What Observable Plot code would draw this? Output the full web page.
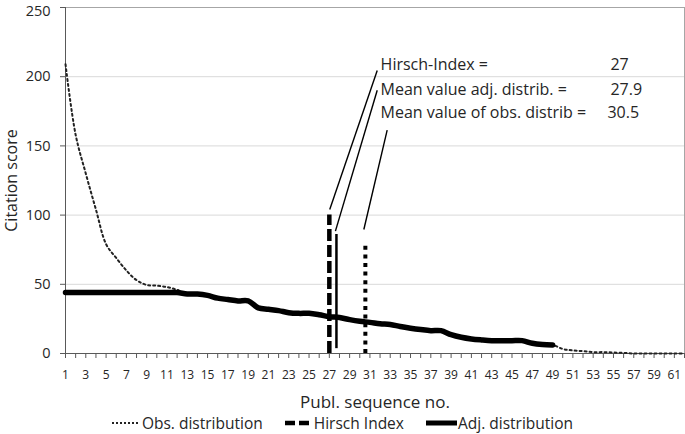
<!DOCTYPE html>
<html>
<head>
<meta charset="utf-8">
<script src="https://cdn.jsdelivr.net/npm/d3@7"></script>
<script src="https://cdn.jsdelivr.net/npm/@observablehq/plot@0.6"></script>
<style>
  body { margin: 0; background: #fff; font-family: "Open Sans", sans-serif; }
  #chart svg { display: block; }
  #legend { display: flex; justify-content: center; align-items: center; height: 22px; width: 685px;
            font-size: 15.5px; color: #262626; white-space: nowrap; }
  .item { display: flex; align-items: center; margin: 0 11px; }
  .item svg { display: block; }
</style>
</head>
<body>
<div id="chart"></div>
<div id="legend"></div>
<script>
// ---- data ----
const seqNo = [1,2,3,4,5,6,7,8,9,10,11,12,13,14,15,16,17,18,19,20,21,22,23,24,25,26,27,28,29,30,31,
  32,33,34,35,36,37,38,39,40,41,42,43,44,45,46,47,48,49,50,51,52,53,54,55,56,57,58,59,60,61,62];
const obsValues = [209,158,130,104,79,69,60,53,49.5,49,48,46,43,43,42,40,39,38,38,33,32,31,29.5,29,29,28,26.6,26,24.5,23.3,22.5,
  21.5,21,19.5,18.3,17.3,16.5,16.5,13.6,11.7,10.5,9.8,9.3,9.3,9.3,9.3,7.4,6.5,6.2,3.3,2.2,1.7,1,1,0.7,0.4,0,0,0,0,0,0];
const adjSeqNo = [1,2,3,4,5,6,7,8,9,10,11,12,13,14,15,16,17,18,19,20,21,22,23,24,25,26,27,28,29,30,31,
  32,33,34,35,36,37,38,39,40,41,42,43,44,45,46,47,48,49];
const adjValues = [44,44,44,44,44,44,44,44,44,44,44,44,43,43,42,40,39,38,38,33,32,31,29.5,29,29,28,26.6,26,24.5,23.3,22.5,
  21.5,21,19.5,18.3,17.3,16.5,16.5,13.6,11.7,10.5,9.8,9.3,9.3,9.3,9.3,7.4,6.5,6.2];

const yTicks = [0,50,100,150,200,250];
const yTopTick = 250;
const xTicks = seqNo;
const xTickLabels = [1,3,5,7,9,11,13,15,17,19,21,23,25,27,29,31,33,35,37,39,41,43,45,47,49,51,53,55,57,59,61];

// reference (vertical) lines: Hirsch index, mean adj., mean obs.
const refNames = ["Hirsch Index", "Mean adj. distrib.", "Mean obs. distrib."];
const refX = [27, 27.7, 30.55];
const refBottom = [0, 3.5, 0];
const refTop = [100, 86, 80];

// annotation texts and their leader lines (data units)
const annoLabels = ["Hirsch-Index =", "Mean value adj. distrib. =", "Mean value of obs. distrib ="];
const annoValues = ["27", "27.9", "30.5"];
const annoY = [204.5, 187.1, 170.3];
const annoLabelX = [32.05, 32.05, 32.05];
const annoValueX = [54.7, 54.7, 54.4];
const leaderX1 = [31.72, 31.72, 32.7];
const leaderY1 = [204.5, 190.2, 161.4];
const leaderX2 = [27.04, 27.6, 30.4];
const leaderY2 = [104, 88.4, 89.6];

const legendNames = ["Obs. distribution", "Hirsch Index", "Adj. distribution"];
const xTitle = "Publ. sequence no.";
const yTitle = "Citation score";

// ---- tables built from the arrays ----
const obs = seqNo.map((x, i) => ({x, y: obsValues[i]}));
const adj = adjSeqNo.map((x, i) => ({x, y: adjValues[i]}));
const refs = refNames.map((name, i) => ({name, x: refX[i], y1: refBottom[i], y2: refTop[i]}));
const annos = annoLabels.map((label, i) => ({label, value: annoValues[i], y: annoY[i], lx: annoLabelX[i], vx: annoValueX[i]}));
const leaders = leaderX1.map((x1, i) => ({x1, y1: leaderY1[i], x2: leaderX2[i], y2: leaderY2[i]}));

const textColor = "#262626";
const chart = Plot.plot({
  width: 685,
  height: 412,
  marginLeft: 65,
  marginRight: 1,
  marginTop: 7,
  marginBottom: 59,
  style: {fontFamily: '"Open Sans", sans-serif', color: textColor, background: "#fff", overflow: "visible"},
  x: {type: "linear", domain: [1, 62]},
  y: {domain: [0, 250]},
  marks: [
    Plot.ruleY(yTicks.filter(d => d > 0 && d < 250), {stroke: "#d9d9d9", strokeWidth: 1}),
    Plot.ruleY([250], {stroke: "#a6a6a6"}),
    Plot.ruleX([62], {stroke: "#a6a6a6"}),
    Plot.axisY({ticks: yTicks, tickFormat: d => d === yTopTick ? "" : String(d), tickSize: 5, tickPadding: 10,
                fontSize: 14.5, label: null, stroke: "#595959", fill: textColor}),
    Plot.axisY({ticks: [yTopTick], tickSize: 0, tickPadding: 15, dy: 4, fontSize: 14.5, label: null, fill: textColor}),
    Plot.axisX({ticks: xTicks, tickFormat: d => xTickLabels.includes(d) ? String(d) : "", tickSize: 5, tickPadding: 12,
                fontSize: 12, label: null, stroke: "#595959", fill: textColor}),
    Plot.ruleX([1], {stroke: "#595959"}),
    Plot.ruleY([0], {stroke: "#595959"}),
    Plot.line(obs, {x: "x", y: "y", stroke: "#222", strokeWidth: 2, strokeDasharray: "2 3", curve: "catmull-rom"}),
    Plot.line(adj, {x: "x", y: "y", stroke: "#000", strokeWidth: 5.5, curve: "catmull-rom"}),
    Plot.ruleX(refs.filter((d, i) => i === 0), {x: "x", y1: "y1", y2: "y2", stroke: "#000", strokeWidth: 4.5, strokeDasharray: "12 4"}),
    Plot.ruleX(refs.filter((d, i) => i === 1), {x: "x", y1: "y1", y2: "y2", stroke: "#000", strokeWidth: 2.5}),
    Plot.ruleX(refs.filter((d, i) => i === 2), {x: "x", y1: "y1", y2: "y2", stroke: "#000", strokeWidth: 4, strokeDasharray: "4 4.6"}),
    Plot.link(leaders, {x1: "x1", y1: "y1", x2: "x2", y2: "y2", stroke: "#000", strokeWidth: 1.4}),
    Plot.text(annos, {x: "lx", y: "y", text: "label", textAnchor: "start", lineAnchor: "bottom", fontSize: 16, fill: textColor}),
    Plot.text(annos, {x: "vx", y: "y", text: "value", textAnchor: "start", lineAnchor: "bottom", fontSize: 16, fill: textColor}),
    Plot.text([yTitle], {text: d => d, frameAnchor: "left", dx: -54, rotate: -90, textAnchor: "middle", lineAnchor: "middle", fontSize: 16, fill: textColor}),
    Plot.text([xTitle], {text: d => d, frameAnchor: "bottom", dy: 54, textAnchor: "middle", lineAnchor: "bottom", fontSize: 17, fill: textColor})
  ]
});
document.getElementById("chart").appendChild(chart);

// ---- legend ----
const swatches = [
  {w: 26, sw: 2, dash: "2 2", color: "#222", gap: 4},
  {w: 27, sw: 4.5, dash: "10 4", color: "#000", gap: 2},
  {w: 31, sw: 5, dash: null, color: "#000", gap: 1}
];
const legend = d3.select("#legend");
legendNames.forEach((name, i) => {
  const s = swatches[i];
  const item = legend.append("div").attr("class", "item");
  const svg = item.append("svg").attr("width", s.w).attr("height", 10).style("margin-right", s.gap + "px");
  svg.append("line").attr("x1", 0).attr("x2", s.w).attr("y1", 5).attr("y2", 5)
    .attr("stroke", s.color).attr("stroke-width", s.sw).attr("stroke-dasharray", s.dash);
  item.append("span").text(name);
});
</script>
</body>
</html>
